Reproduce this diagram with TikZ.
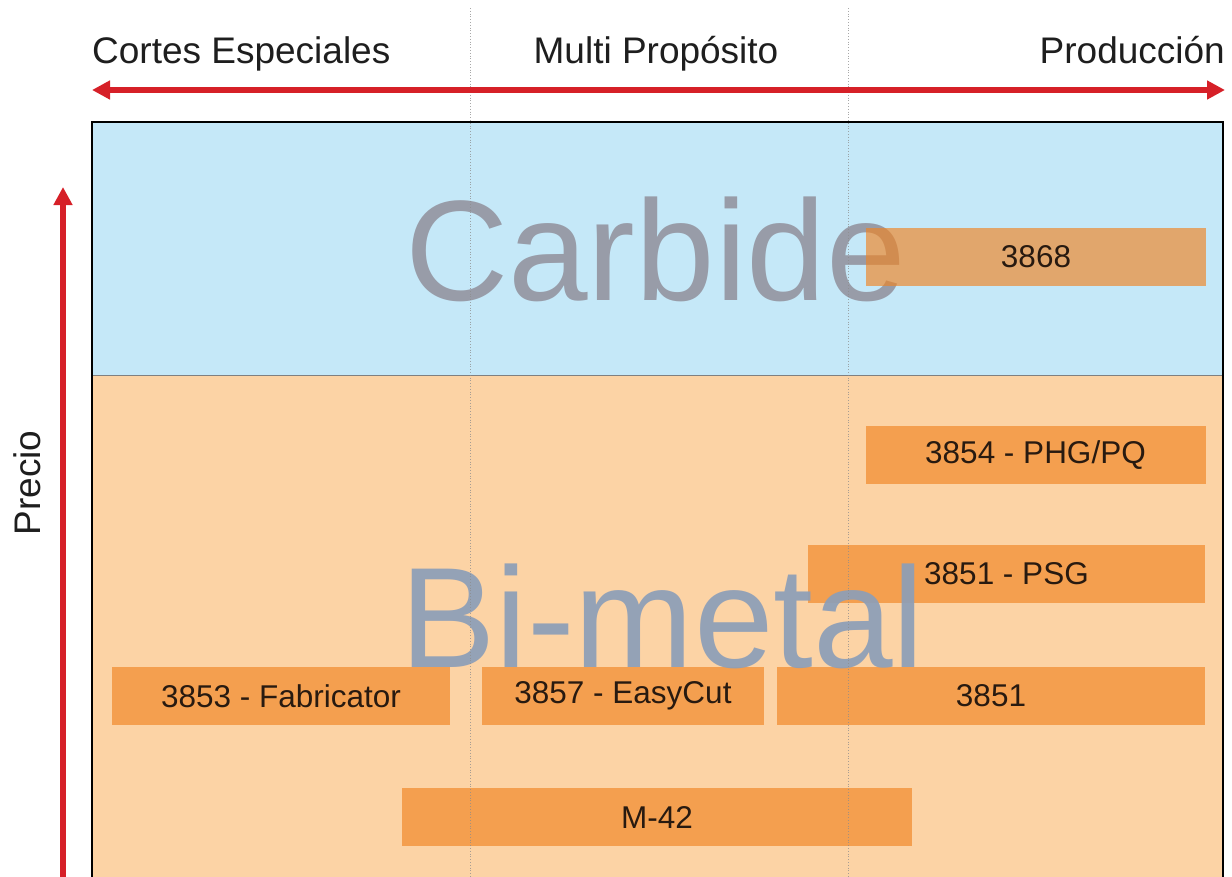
\documentclass[tikz,border=0pt]{standalone}
\usepackage{fontspec}
\setmainfont{Liberation Sans}
\usetikzlibrary{arrows.meta}
\definecolor{skyfill}{RGB}{197,232,248}
\definecolor{peachfill}{RGB}{252,211,165}
\definecolor{barfill}{RGB}{241,132,34}
\definecolor{axisred}{RGB}{214,32,40}
\definecolor{carbidegrey}{RGB}{152,156,168}
\definecolor{bimetalgrey}{RGB}{140,158,184}
\definecolor{labeltext}{RGB}{40,26,16}
\definecolor{headtext}{RGB}{30,30,30}
\definecolor{guidegrey}{RGB}{140,140,140}
\tikzset{
  bar/.style={fill=barfill, fill opacity=0.65, text opacity=1, text=labeltext,
    font=\fontsize{31.5}{36}\selectfont, inner sep=0pt, minimum height=58pt, anchor=center},
  bigword/.style={font=\fontsize{143}{150}\selectfont, inner sep=0pt, anchor=base west},
  headlabel/.style={font=\fontsize{37}{42}\selectfont, text=headtext, inner sep=0pt},
  guide/.style={draw=guidegrey, dotted, line width=0.8pt, draw opacity=0.75},
  redaxis/.style={draw=axisred, line width=5.5pt, arrows={-Triangle[length=18pt,width=18pt]}},
  framebox/.style={draw=black, line width=2pt}
}
\begin{document}
\begin{tikzpicture}[x=1pt,y=-1pt]
\useasboundingbox (0,0) rectangle (1232,876);
\clip (0,0) rectangle (1232,876);
\fill[white] (0,0) rectangle (1232,876);
% backgrounds
\fill[skyfill] (92,122) rectangle (1223,375);
\fill[peachfill] (92,375) rectangle (1223,900);
\draw[gray, line width=1pt] (92,375) -- (1223,375);
% Carbide word (under the bars)
\node[bigword, text=carbidegrey] (carbide) at (405,300) {Carbide};
% bars
\node[bar, minimum width=340pt] (b3868) at (1036,256.5) {3868};
\node[bar, minimum width=340pt] (b3854) at (1035.5,455) {3854 - PHG/PQ};
\node[bar, minimum width=397pt] (b3851psg) at (1006.5,574) {3851 - PSG};
\node[bar, minimum width=428pt] (b3851) at (991,696) {3851};
\node[bar, minimum width=338pt] (b3853) at (281,696) {3853 - Fabricator};
\node[bar, minimum width=282pt] (b3857) at (623,696) {3857 - EasyCut};
\node[bar, minimum width=510pt] (bm42) at (657,817) {M-42};
% Bi-metal word (over the bars)
\node[bigword, text=bimetalgrey, text opacity=0.92] (bimetal) at (400,667) {Bi-metal};
% dotted guides
\coordinate (g1top) at (470,8);
\coordinate (g1bot) at (470,880);
\coordinate (g2top) at (848,8);
\coordinate (g2bot) at (848,880);
\draw[guide] (g1top) -- (g1bot);
\draw[guide] (g2top) -- (g2bot);
% frame
\coordinate (fbl) at (92,900);
\coordinate (ftl) at (92,122);
\coordinate (ftr) at (1223,122);
\coordinate (fbr) at (1223,900);
\draw[framebox] (fbl) -- (ftl) -- (ftr) -- (fbr);
% axes
\coordinate (hleft) at (92,90);
\coordinate (hright) at (1225,90);
\coordinate (hmid) at (658,90);
\draw[redaxis] (hmid) -- (hleft);
\draw[redaxis] (hmid) -- (hright);
\coordinate (vbot) at (63,900);
\coordinate (vtop) at (63,187);
\draw[redaxis] (vbot) -- (vtop);
% labels
\node[headlabel, anchor=base west] (cortes) at (92,63) {Cortes Especiales};
\node[headlabel, anchor=base] (multi) at (656,63) {Multi Propósito};
\node[headlabel, anchor=base east] (produccion) at (1225,63) {Producción};
\node[headlabel, rotate=90] (precio) at (27,483) {Precio};
\end{tikzpicture}
\end{document}
